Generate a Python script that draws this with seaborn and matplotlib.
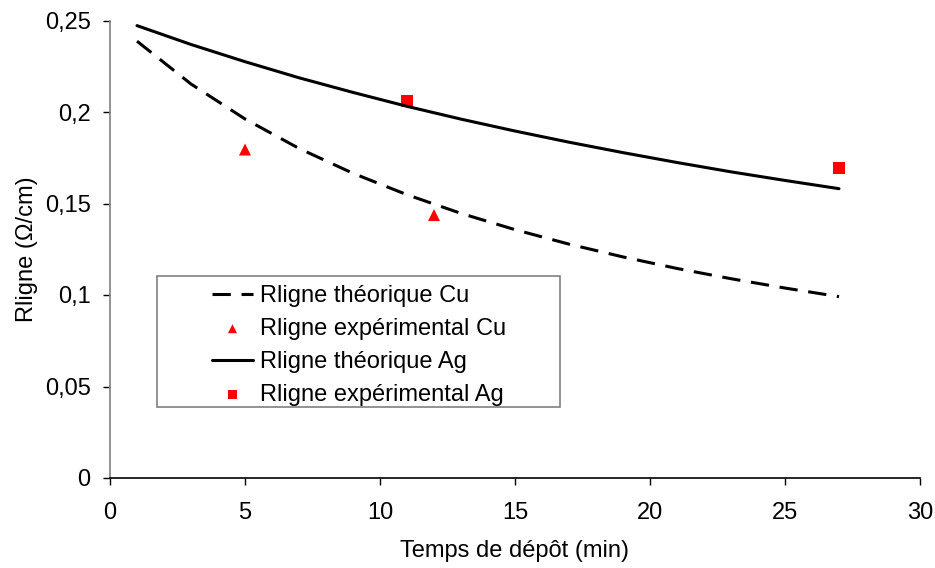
import numpy as np
import pandas as pd
import seaborn as sns
import matplotlib.pyplot as plt
from matplotlib.patches import Rectangle
from matplotlib.ticker import FuncFormatter

sns.set_style("white")
plt.rcParams['font.family'] = ['Liberation Sans', 'DejaVu Sans']
plt.rcParams['text.color'] = 'black'

# theoretical curves
t_theo = [1, 3, 5, 7, 9, 11, 13, 15, 17, 19, 21, 23, 25, 27]
r_cu_theo = [0.2387, 0.2153, 0.1962, 0.1801, 0.1665, 0.1548, 0.1446,
             0.1357, 0.1278, 0.1208, 0.1145, 0.1089, 0.1038, 0.0991]
r_ag_theo = [0.2472, 0.2369, 0.2275, 0.2187, 0.2107, 0.2031, 0.1961,
             0.1896, 0.1835, 0.1778, 0.1724, 0.1673, 0.1626, 0.1581]

# measured points
t_cu_exp = [5, 12]
r_cu_exp = [0.1795, 0.1437]
t_ag_exp = [11, 27]
r_ag_exp = [0.2060, 0.1696]

labels = ["Rligne théorique Cu", "Rligne expérimental Cu",
          "Rligne théorique Ag", "Rligne expérimental Ag"]

theo = pd.DataFrame({"t": t_theo, "cu": r_cu_theo, "ag": r_ag_theo})

fig = plt.figure(figsize=(9.35, 5.68), dpi=100)
ax = fig.add_axes([110/935, 1-478/568, (920-110)/935, (478-20.5)/568])

sns.lineplot(data=theo, x="t", y="cu", ax=ax, color="black", lw=2.2,
             label=labels[0])
ax.lines[-1].set_dashes([6, 3.5])
sns.scatterplot(x=t_cu_exp, y=r_cu_exp, ax=ax, marker="^", s=75,
                color="red", edgecolor="none", label=labels[1])
sns.lineplot(data=theo, x="t", y="ag", ax=ax, color="black", lw=2.2,
             label=labels[2])
sns.scatterplot(x=t_ag_exp, y=r_ag_exp, ax=ax, marker="s", s=75,
                color="red", edgecolor="none", label=labels[3])

ax.set_xlim(0, 30)
ax.set_ylim(0, 0.25)
ax.set_xticks([0, 5, 10, 15, 20, 25, 30])
ax.set_yticks([0, 0.05, 0.1, 0.15, 0.2, 0.25])
ax.yaxis.set_major_formatter(FuncFormatter(lambda v, p: f"{v:g}".replace(".", ",")))
ax.tick_params(labelsize=17, direction="out", length=5, width=1,
               left=True, bottom=True, colors="black", labelcolor="black")
ax.tick_params(axis="x", pad=12)
ax.tick_params(axis="y", pad=9)

for s in ["top", "right"]:
    ax.spines[s].set_visible(False)
ax.spines["left"].set_color("#808080")
ax.spines["bottom"].set_color("black")
ax.spines["left"].set_linewidth(1.2)
ax.spines["bottom"].set_linewidth(1.2)

ax.set_xlabel("Temps de dépôt (min)", fontsize=17, labelpad=12, color="black")
ax.set_ylabel("Rligne (Ω/cm)", fontsize=17, labelpad=5, color="black")

# legend box
fig.patches.append(Rectangle((157/935, 1-407/568), (560-157)/935, (407-276)/568,
                             transform=fig.transFigure, fill=False,
                             edgecolor="#808080", lw=1.2, zorder=5))
leg = ax.legend(loc="upper left", bbox_to_anchor=(200/935, 1-273/568),
                bbox_transform=fig.transFigure, frameon=False, fontsize=17,
                handlelength=1.75, handletextpad=0.3, labelspacing=0.47,
                borderpad=0, markerscale=0.75)
for txt in leg.get_texts():
    txt.set_color("black")

fig.savefig("out.png", dpi=100)
